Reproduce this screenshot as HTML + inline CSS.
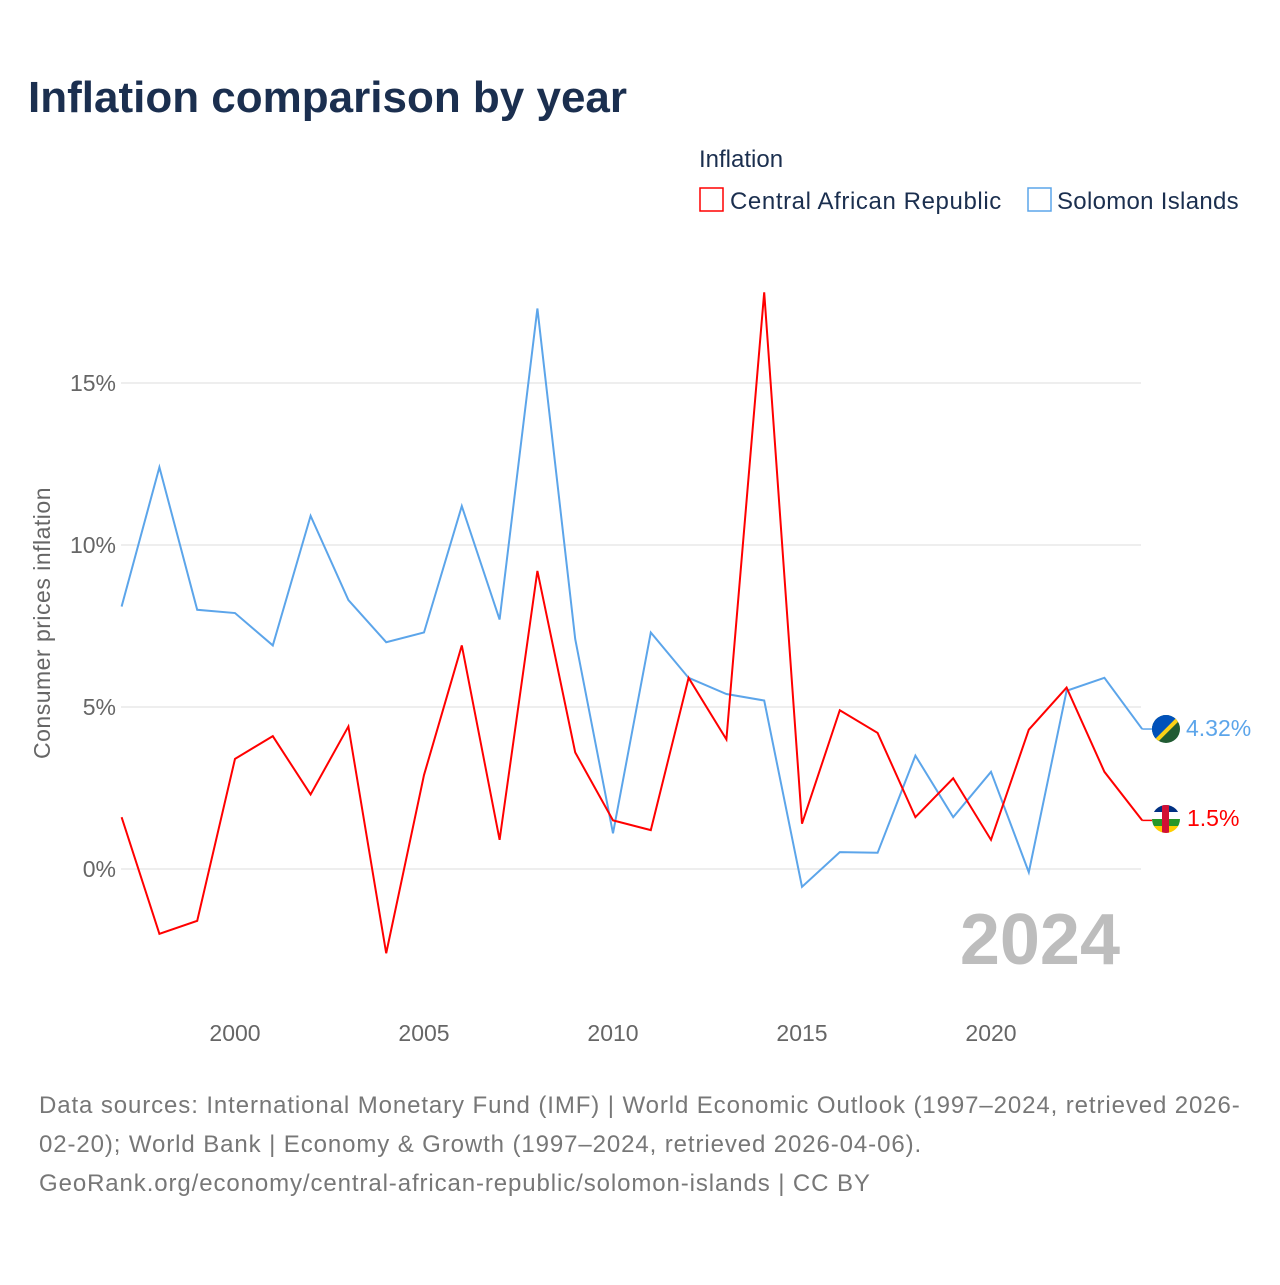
<!DOCTYPE html>
<html><head><meta charset="utf-8"><style>
body{margin:0;background:#fff;font-family:"Liberation Sans",sans-serif;}
svg text{font-family:"Liberation Sans",sans-serif;}
</style></head><body>
<svg width="1280" height="1280" viewBox="0 0 1280 1280">
<text x="28" y="112" font-size="44" font-weight="bold" fill="#1b2f4f">Inflation comparison by year</text>
<text x="699" y="167" font-size="24" fill="#1b2f4f">Inflation</text>
<g><rect x="700" y="188" width="23" height="23" fill="none" stroke="#f00" stroke-width="1.5"/><text x="730" y="209" font-size="24" fill="#1b2f4f" letter-spacing="0.6">Central African Republic</text></g>
<g><rect x="1028" y="188" width="23" height="23" fill="none" stroke="#5ca5ea" stroke-width="1.5"/><text x="1057" y="209" font-size="24" fill="#1b2f4f" letter-spacing="0.3">Solomon Islands</text></g>
<g id="grid"></g>
<g id="yticks"></g>
<g id="xticks"></g>
<text transform="translate(50,623) rotate(-90)" text-anchor="middle" font-size="23" fill="#666" letter-spacing="0.5">Consumer prices inflation</text>
<text x="1120" y="964" text-anchor="end" font-size="72" font-weight="bold" fill="#bdbdbd">2024</text>
<g id="series"></g>
<g><clipPath id="c1"><circle cx="1166" cy="729" r="14"/></clipPath><g clip-path="url(#c1)"><rect x="1150" y="713" width="32" height="32" fill="#215b33"/><polygon points="1150,713 1182,713 1150,745" fill="#0051ba"/><line x1="1150" y1="747" x2="1184" y2="713" stroke="#fcd116" stroke-width="4"/></g></g>
<g><clipPath id="c2"><circle cx="1166" cy="819" r="14"/></clipPath><g clip-path="url(#c2)"><rect x="1150" y="805" width="32" height="7" fill="#003082"/><rect x="1150" y="812" width="32" height="7" fill="#fff"/><rect x="1150" y="819" width="32" height="7" fill="#289728"/><rect x="1150" y="826" width="32" height="8" fill="#ffce00"/><rect x="1162" y="805" width="7" height="29" fill="#d21034"/></g></g>
<text id="lblSI" x="1186" y="736" font-size="23" fill="#5ca5ea"></text>
<text id="lblCAR" x="1187" y="826" font-size="23" fill="#f00"></text>
<text font-size="24" fill="#777" letter-spacing="0.9"><tspan x="39" y="1113">Data sources: International Monetary Fund (IMF) | World Economic Outlook (1997–2024, retrieved 2026-</tspan><tspan x="39" y="1152">02-20); World Bank | Economy &amp; Growth (1997–2024, retrieved 2026-04-06).</tspan><tspan x="39" y="1191">GeoRank.org/economy/central-african-republic/solomon-islands | CC BY</tspan></text>
</svg>
<script>
const years=[1997,1998,1999,2000,2001,2002,2003,2004,2005,2006,2007,2008,2009,2010,2011,2012,2013,2014,2015,2016,2017,2018,2019,2020,2021,2022,2023,2024];
const carValues=[1.6,-2.0,-1.6,3.4,4.1,2.3,4.4,-2.6,2.9,6.9,0.9,9.2,3.6,1.5,1.2,5.9,4.0,17.8,1.4,4.9,4.2,1.6,2.8,0.9,4.3,5.6,3.0,1.5];
const siValues=[8.1,12.4,8.0,7.9,6.9,10.9,8.3,7.0,7.3,11.2,7.7,17.3,7.1,1.1,7.3,5.9,5.4,5.2,-0.55,0.52,0.5,3.5,1.6,3.0,-0.1,5.5,5.9,4.32];
const yTicks=[0,5,10,15];
const xTicks=[2000,2005,2010,2015,2020];
const NS='http://www.w3.org/2000/svg';
const x=v=>121.6+(v-1997)*37.8;
const y=v=>869-v*32.4;
function mk(t,a,p){const e=document.createElementNS(NS,t);for(const k in a)e.setAttribute(k,a[k]);p.appendChild(e);return e;}
const g=document.getElementById('grid'),yt=document.getElementById('yticks'),xt=document.getElementById('xticks'),s=document.getElementById('series');
yTicks.forEach(v=>{const l=mk('line',{x1:121,x2:1141,y1:y(v),y2:y(v),stroke:'#e8e8e8','stroke-width':1.5},g);


const t=mk('text',{x:116,y:y(v)+8,'text-anchor':'end','font-size':23,fill:'#666'},yt);t.textContent=v+'%';

});
xTicks.forEach(v=>{const t=mk('text',{x:x(v),y:1041,'text-anchor':'middle','font-size':23,fill:'#666'},xt);t.textContent=v;

});
function line(vals,col,name){const p=mk('path',{d:vals.map((v,i)=>(i?'L':'M')+x(years[i])+','+y(v)).join(''),fill:'none',stroke:col,'stroke-width':2},s);

}
line(siValues,'#5ca5ea','solomon-line');
line(carValues,'#f00','car-line');
const last=years.length-1;
const ls=document.getElementById('lblSI'),lc=document.getElementById('lblCAR');
ls.textContent=siValues[last]+'%';lc.textContent=carValues[last]+'%';
mk('line',{x1:x(2024),x2:1152,y1:y(siValues[last]),y2:y(siValues[last]),stroke:'#5ca5ea','stroke-width':1.5},s);
mk('line',{x1:x(2024),x2:1152,y1:y(carValues[last]),y2:y(carValues[last]),stroke:'#f00','stroke-width':1.5},s);
</script>
</body></html>
